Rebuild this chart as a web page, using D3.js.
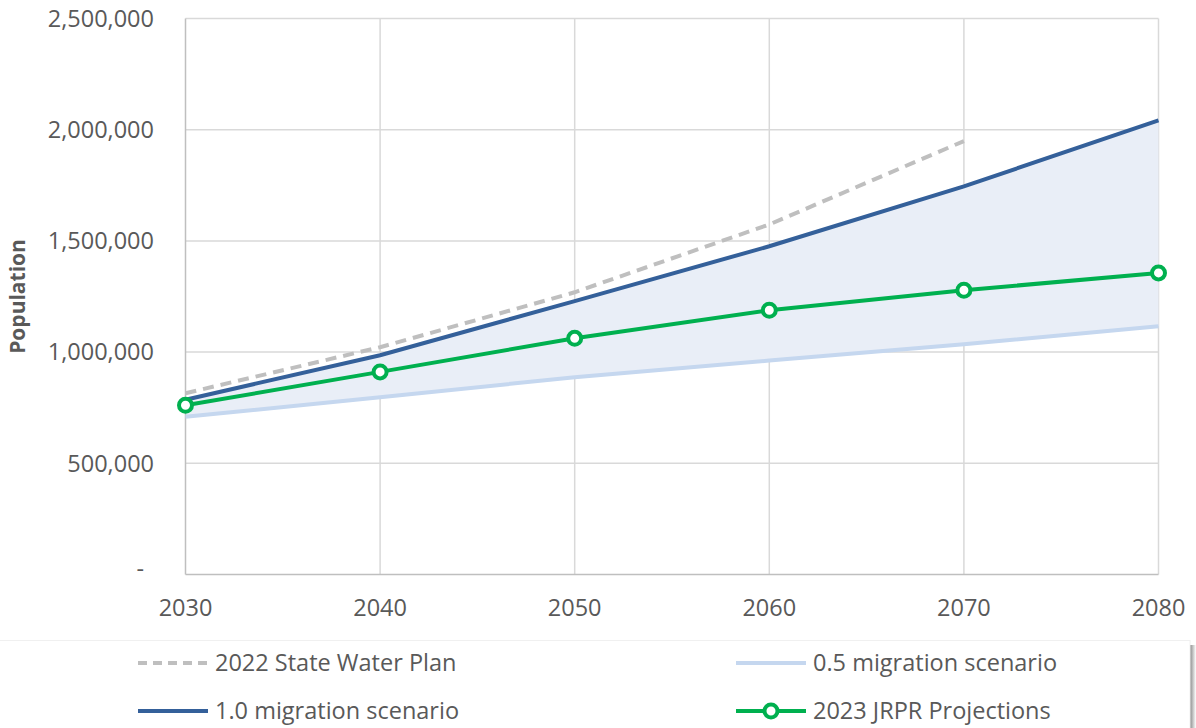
<!DOCTYPE html>
<html>
<head>
<meta charset="utf-8">
<script src="https://cdn.jsdelivr.net/npm/d3@7"></script>
<style>
  html, body { margin: 0; padding: 0; background: #fff; }
  svg { display: block; font-family: "Open Sans", "Noto Sans", sans-serif; }
</style>
</head>
<body>
<svg id="chart" width="1196" height="728"></svg>
<script>
// Population projections by year
const years = [2030, 2040, 2050, 2060, 2070, 2080];
const stateWaterPlan = [815000, 1022000, 1269000, 1574000, 1949000];        // 2030–2070
const migration05   = [709000, 797000, 887000, 962000, 1035000, 1116000];
const migration10   = [786000, 986000, 1229000, 1476000, 1745000, 2042000];
const jrpr          = [761000, 911000, 1062000, 1188000, 1278000, 1356000];
const yTicks = [0, 500000, 1000000, 1500000, 2000000, 2500000];
const legendLabels = ["2022 State Water Plan", "0.5 migration scenario", "1.0 migration scenario", "2023 JRPR Projections"];

const svg = d3.select("#chart");
const x = d3.scaleLinear().domain([2030, 2080]).range([185.5, 1158.5]);
const y = d3.scaleLinear().domain([0, 2500000]).range([574.5, 18.5]);

const colors = {
  swp: "#bfbfbf",
  m05: "#c5d7ef",
  m10: "#34609a",
  jrpr: "#00b04f",
  band: "#e9eef7",
  grid: "#d9d9d9",
  text: "#595959"
};
const fontSize = 23.5;

// gridlines
const g = svg.append("g");
g.selectAll(".hgrid").data(yTicks.slice(1)).join("line")
  .attr("x1", x(2030)).attr("x2", x(2080))
  .attr("y1", d => y(d)).attr("y2", d => y(d))
  .attr("stroke", colors.grid).attr("stroke-width", 1.5);
g.selectAll(".vgrid").data(years.slice(1)).join("line")
  .attr("x1", d => x(d)).attr("x2", d => x(d))
  .attr("y1", y(0)).attr("y2", y(2500000))
  .attr("stroke", colors.grid).attr("stroke-width", 1.5);

// shaded band between the two migration scenarios
const bandData = years.map((yr, i) => ({ yr, lo: migration05[i], hi: migration10[i] }));
svg.append("path").datum(bandData)
  .attr("fill", colors.band)
  .attr("d", d3.area().x(d => x(d.yr)).y0(d => y(d.lo)).y1(d => y(d.hi)));

// axis lines
svg.append("line").attr("x1", x(2030)).attr("x2", x(2030)).attr("y1", y(0)).attr("y2", y(2500000))
  .attr("stroke", "#bfbfbf").attr("stroke-width", 1.5);
svg.append("line").attr("x1", x(2030)).attr("x2", x(2080)).attr("y1", y(0)).attr("y2", y(0))
  .attr("stroke", "#bfbfbf").attr("stroke-width", 1.5);

// y tick labels (zero shown as an accounting dash)
const fmt = d3.format(",");
svg.selectAll(".ylab").data(yTicks).join("text")
  .attr("x", d => d === 0 ? 144 : 154).attr("y", d => y(d))
  .attr("dy", d => d === 0 ? "0.1em" : "0.35em")
  .attr("text-anchor", "end")
  .attr("font-size", fontSize).attr("fill", colors.text)
  .text(d => d === 0 ? "-" : fmt(d));

// x tick labels
svg.selectAll(".xlab").data(years).join("text")
  .attr("x", d => x(d)).attr("y", 608).attr("dy", "0.35em")
  .attr("text-anchor", "middle")
  .attr("font-size", fontSize).attr("fill", colors.text)
  .text(d => d);

// y axis title
svg.append("text")
  .attr("transform", `translate(25,${(y(0) + y(2500000)) / 2}) rotate(-90)`)
  .attr("text-anchor", "middle")
  .attr("font-size", 21).attr("font-weight", "bold").attr("fill", colors.text)
  .text("Population");

const line = d3.line().x(d => x(d[0])).y(d => y(d[1]));

svg.append("path").datum(years.map((yr, i) => [yr, migration05[i]]))
  .attr("fill", "none").attr("stroke", colors.m05).attr("stroke-width", 4).attr("d", line);
svg.append("path").datum(stateWaterPlan.map((v, i) => [years[i], v]))
  .attr("fill", "none").attr("stroke", colors.swp).attr("stroke-width", 4)
  .attr("stroke-dasharray", "11,7").attr("d", line);
svg.append("path").datum(years.map((yr, i) => [yr, migration10[i]]))
  .attr("fill", "none").attr("stroke", colors.m10).attr("stroke-width", 4).attr("d", line);
svg.append("path").datum(years.map((yr, i) => [yr, jrpr[i]]))
  .attr("fill", "none").attr("stroke", colors.jrpr).attr("stroke-width", 4).attr("d", line);
svg.selectAll(".jrprPt").data(years.map((yr, i) => [yr, jrpr[i]])).join("circle")
  .attr("cx", d => x(d[0])).attr("cy", d => y(d[1])).attr("r", 6.5)
  .attr("fill", "#fff").attr("stroke", colors.jrpr).attr("stroke-width", 4);

// legend frame with soft shadow on the right
const defs = svg.append("defs");
const grad = defs.append("linearGradient").attr("id", "shadow").attr("x1", 0).attr("x2", 1);
grad.append("stop").attr("offset", 0).attr("stop-color", "#8a8a8a");
grad.append("stop").attr("offset", 1).attr("stop-color", "#ffffff");
svg.append("rect").attr("x", 1190).attr("y", 645).attr("width", 6).attr("height", 90).attr("fill", "url(#shadow)");
svg.append("rect").attr("x", -5).attr("y", 640.5).attr("width", 1195).attr("height", 100)
  .attr("fill", "#fff").attr("stroke", "#f0f0f0").attr("stroke-width", 1);

const legend = [
  { label: legendLabels[0], color: colors.swp, dash: "9,6", marker: false, lx: 138, ly: 663 },
  { label: legendLabels[1], color: colors.m05, dash: null, marker: false, lx: 736, ly: 663 },
  { label: legendLabels[2], color: colors.m10, dash: null, marker: false, lx: 138, ly: 711 },
  { label: legendLabels[3], color: colors.jrpr, dash: null, marker: true, lx: 736, ly: 711 }
];
const lg = svg.selectAll(".leg").data(legend).join("g")
  .attr("transform", d => `translate(${d.lx},${d.ly})`);
lg.append("line").attr("x1", 0).attr("x2", 70).attr("y1", 0).attr("y2", 0)
  .attr("stroke", d => d.color).attr("stroke-width", 4)
  .attr("stroke-dasharray", d => d.dash);
lg.filter(d => d.marker).append("circle").attr("cx", 35).attr("cy", 0).attr("r", 6.5)
  .attr("fill", "#fff").attr("stroke", d => d.color).attr("stroke-width", 4);
lg.append("text").attr("x", 77).attr("y", 0).attr("dy", "0.35em")
  .attr("font-size", fontSize).attr("fill", colors.text)
  .text(d => d.label);
</script>
</body>
</html>
